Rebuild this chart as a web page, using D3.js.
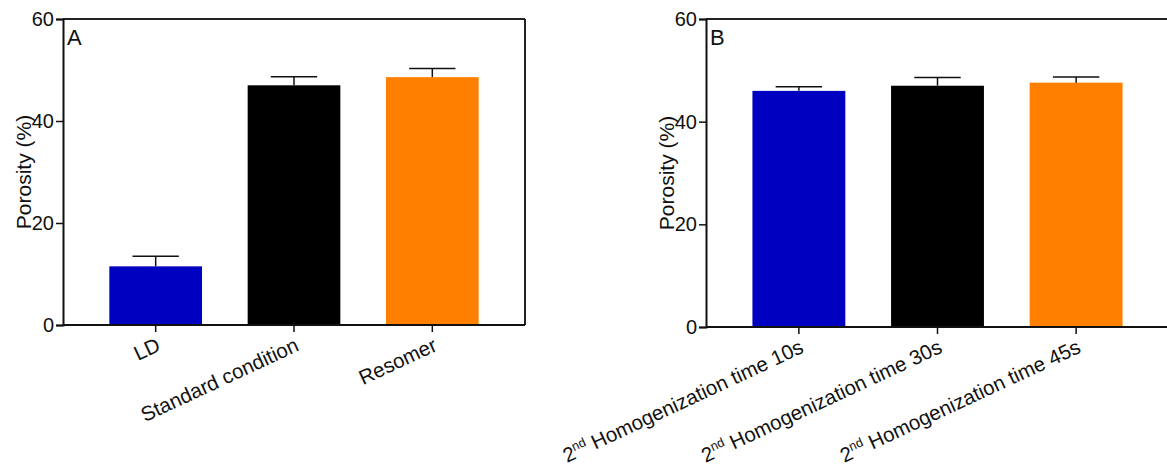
<!DOCTYPE html>
<html>
<head>
<meta charset="utf-8">
<script src="https://cdn.jsdelivr.net/npm/d3@7"></script>
<style>
  html, body { margin: 0; padding: 0; background: #fff; }
  svg { display: block; font-family: "Liberation Sans", Arial, sans-serif; }
</style>
</head>
<body>
<svg id="chart" width="1167" height="468"></svg>
<script>
// Porosity (%) per preparation condition, mean and SD
const categoriesA = ["LD", "Standard condition", "Resomer"];
const meansA = [11.5, 47.0, 48.6];
const sdA = [2.0, 1.7, 1.7];

const categoriesB = ["10s", "30s", "45s"];
const meansB = [46.0, 47.0, 47.6];
const sdB = [0.8, 1.6, 1.1];

const barColors = ["#0000c0", "#000000", "#ff8000"];
const yTicks = [0, 20, 40, 60];
const panelLetters = ["A", "B"];

const svg = d3.select("#chart");

function drawPanel(opts) {
  const { left, right, top, bottom, cats, means, sds, letter, labelFn } = opts;
  const g = svg.append("g");

  const x = d3.scaleBand()
    .domain(cats)
    .range([left, right])
    .paddingInner(0.33)
    .paddingOuter(0.335);

  const y = d3.scaleLinear().domain([0, 60]).range([bottom, top]);

  // bars
  g.selectAll("rect.bar")
    .data(cats)
    .join("rect")
    .attr("class", "bar")
    .attr("x", d => x(d))
    .attr("width", x.bandwidth())
    .attr("y", (d, i) => y(means[i]))
    .attr("height", (d, i) => y(0) - y(means[i]))
    .attr("fill", (d, i) => barColors[i]);

  // upper error bars
  const capHalf = x.bandwidth() / 4;
  const eb = g.selectAll("g.err").data(cats).join("g").attr("class", "err");
  eb.append("line")
    .attr("x1", d => x(d) + x.bandwidth() / 2)
    .attr("x2", d => x(d) + x.bandwidth() / 2)
    .attr("y1", (d, i) => y(means[i]))
    .attr("y2", (d, i) => y(means[i] + sds[i]))
    .attr("stroke", "#111").attr("stroke-width", 1.5);
  eb.append("line")
    .attr("x1", d => x(d) + x.bandwidth() / 2 - capHalf)
    .attr("x2", d => x(d) + x.bandwidth() / 2 + capHalf)
    .attr("y1", (d, i) => y(means[i] + sds[i]))
    .attr("y2", (d, i) => y(means[i] + sds[i]))
    .attr("stroke", "#111").attr("stroke-width", 1.5);

  // frame: top and right
  g.append("line")
    .attr("x1", left).attr("x2", right)
    .attr("y1", top).attr("y2", top)
    .attr("stroke", "#222").attr("stroke-width", 2);
  g.append("line")
    .attr("x1", right).attr("x2", right)
    .attr("y1", top).attr("y2", bottom)
    .attr("stroke", "#222").attr("stroke-width", 2);

  // y axis
  const yAxis = g.append("g")
    .attr("transform", `translate(${left},0)`)
    .call(d3.axisLeft(y).tickValues(yTicks).tickSize(7).tickPadding(2));
  yAxis.select(".domain").attr("stroke", "#111").attr("stroke-width", 2);
  yAxis.selectAll(".tick line").attr("stroke", "#111").attr("stroke-width", 1.5);
  yAxis.selectAll(".tick text")
    .attr("font-size", 20).attr("fill", "#111")
    .attr("font-family", "Liberation Sans, Arial, sans-serif");

  // x axis
  const xAxis = g.append("g")
    .attr("transform", `translate(0,${bottom})`)
    .call(d3.axisBottom(x).tickSize(7).tickFormat(""));
  xAxis.select(".domain").attr("stroke", "#111").attr("stroke-width", 2)
    .attr("d", `M${left},0H${right}`);
  xAxis.selectAll(".tick line").attr("stroke", "#111").attr("stroke-width", 1.5);

  // rotated category labels
  cats.forEach((c, i) => {
    const cx = x(c) + x.bandwidth() / 2;
    const t = g.append("text")
      .attr("transform", `translate(${cx + 6},${bottom + 25}) rotate(-25)`)
      .attr("text-anchor", "end")
      .attr("font-size", 20.5)
      .attr("fill", "#111");
    labelFn(t, c);
  });

  // y axis title
  g.append("text")
    .attr("transform", `translate(${left - 32},${(top + bottom) / 2}) rotate(-90)`)
    .attr("text-anchor", "middle")
    .attr("font-size", 21)
    .attr("fill", "#111")
    .text("Porosity (%)");

  // panel letter
  g.append("text")
    .attr("x", left + 4)
    .attr("y", top + 26)
    .attr("font-size", 22)
    .attr("fill", "#111")
    .text(letter);
}

drawPanel({
  left: 63, right: 525, top: 19, bottom: 325,
  cats: categoriesA, means: meansA, sds: sdA, letter: panelLetters[0],
  labelFn: (t, c) => t.text(c)
});

drawPanel({
  left: 706, right: 1169, top: 19, bottom: 327,
  cats: categoriesB, means: meansB, sds: sdB, letter: panelLetters[1],
  labelFn: (t, c) => {
    t.append("tspan").text("2");
    t.append("tspan").attr("font-size", "0.62em").attr("dy", "-0.6em").text("nd");
    t.append("tspan").attr("dy", "0.37em").text(" Homogenization time " + c);
  }
});
</script>
</body>
</html>
